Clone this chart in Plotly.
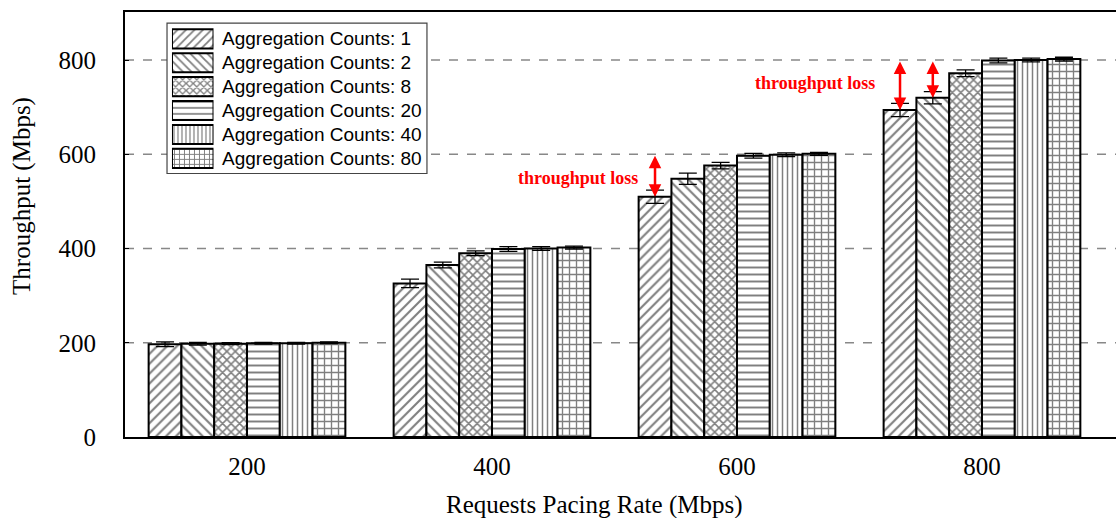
import plotly.graph_objects as go

# Requests pacing rates (Mbps) on the x axis
rates = ["200", "400", "600", "800"]
y_ticks = [0, 200, 400, 600, 800]

# Mean throughput (Mbps) per aggregation count
agg_1 = [197, 326, 510, 694]
agg_2 = [198, 365, 548, 720]
agg_8 = [198, 390, 576, 772]
agg_20 = [199, 399, 597, 799]
agg_40 = [199, 400, 599, 800]
agg_80 = [200, 402, 601, 802]

# Error bar half-lengths (Mbps)
err_1 = [5, 9, 14, 14]
err_2 = [3, 6, 12, 13]
err_8 = [2, 5, 7, 7]
err_20 = [2, 5, 5, 5]
err_40 = [2, 4, 4, 4]
err_80 = [2, 3, 3, 4]

names = ["Aggregation Counts: 1", "Aggregation Counts: 2", "Aggregation Counts: 8",
         "Aggregation Counts: 20", "Aggregation Counts: 40", "Aggregation Counts: 80"]
series = [agg_1, agg_2, agg_8, agg_20, agg_40, agg_80]
errors = [err_1, err_2, err_8, err_20, err_40, err_80]
shapes = ["/", "\\", "x", "-", "|", "+"]
sizes = [7, 7, 6, 7, 5, 7]
solid = [0.3, 0.3, 0.45, 0.28, 0.3, 0.35]

BARGAP = 0.197
SERIF = "Liberation Serif, Times New Roman, serif"
SANS = "Liberation Sans, Arial, sans-serif"

fig = go.Figure()
for name, vals, errs, shp, sz, so in zip(names, series, errors, shapes, sizes, solid):
    fig.add_trace(go.Bar(
        x=rates, y=vals, name=name, showlegend=False,
        marker=dict(color="white", line=dict(color="black", width=2),
                    pattern=dict(shape=shp, fgcolor="black", bgcolor="white",
                                 size=sz, solidity=so)),
        error_y=dict(type="data", array=errs, color="black",
                     thickness=1.3, width=9),
    ))

# Legend key: hatched swatches drawn as horizontal bars on a small inset axis
key_rows = list(range(len(names)))
fig.add_trace(go.Bar(
    x=[1] * len(names), y=key_rows, orientation="h",
    xaxis="x2", yaxis="y2", showlegend=False, hoverinfo="skip",
    offsetgroup="key", width=0.8,
    marker=dict(color="white", line=dict(color="black", width=2),
                pattern=dict(shape=shapes, fgcolor="black", bgcolor="white",
                             size=[6, 6, 5, 6, 4, 5],
                             solidity=[0.3, 0.3, 0.45, 0.28, 0.3, 0.35])),
))


# centre of the k-th bar inside group i (category units)
def bar_center(i, k, n=len(series)):
    w = (1 - BARGAP) / n
    return i - (1 - BARGAP) / 2 + w * (k + 0.5)


red = "#ff0000"
annotations = []
# double-headed arrows from the nominal rate down to the bar tops
for gi, k in [(2, 0), (3, 0), (3, 1)]:
    xc = bar_center(gi, k)
    annotations.append(dict(
        x=xc, y=series[k][gi], ax=xc, ay=float(rates[gi]),
        xref="x", yref="y", axref="x", ayref="y",
        showarrow=True, arrowhead=2, arrowside="end+start",
        arrowsize=1, arrowwidth=2.5, arrowcolor=red, standoff=0, startstandoff=0,
        text="",
    ))
for xv, yv in [(1.35, 550), (2.32, 752)]:
    annotations.append(dict(
        x=xv, y=yv, xref="x", yref="y", showarrow=False,
        text="<b>throughput loss</b>",
        font=dict(family=SERIF, size=18, color=red),
    ))
# legend key labels
for k, name in enumerate(names):
    annotations.append(dict(
        x=0.0956, y=k, xref="paper", yref="y2", showarrow=False,
        text=name, xanchor="left", yanchor="middle",
        font=dict(family=SANS, size=19, color="black"),
    ))
# axis titles
annotations.append(dict(
    x=0.473, y=-0.16, xref="paper", yref="paper", showarrow=False,
    text="Requests Pacing Rate (Mbps)", xanchor="center", yanchor="middle",
    font=dict(family=SERIF, size=25, color="black"),
))
annotations.append(dict(
    x=-0.104, y=0.567, xref="paper", yref="paper", showarrow=False,
    text="Throughput (Mbps)", textangle=-90, xanchor="center", yanchor="middle",
    font=dict(family=SERIF, size=25, color="black"),
))

# dashed horizontal gridlines, then the legend frame on top of them
layout_shapes = []
for v in y_ticks[1:]:
    layout_shapes.append(dict(
        type="line", xref="paper", yref="y", x0=0, x1=1, y0=v, y1=v,
        line=dict(color="#888", width=1.5, dash="dash"), layer="below",
    ))
layout_shapes.append(dict(
    type="rect", xref="paper", yref="paper",
    x0=0.0424, x1=0.3047, y0=0.620, y1=0.974,
    line=dict(color="#444", width=1.2), fillcolor="white", layer="below",
))

fig.update_layout(
    width=1116, height=518,
    margin=dict(l=125, r=0, t=12, b=81),
    paper_bgcolor="white", plot_bgcolor="white",
    barmode="group", bargap=BARGAP, bargroupgap=0,
    showlegend=False,
    annotations=annotations,
    shapes=layout_shapes,
    xaxis=dict(
        type="category", range=[-0.498, 3.547], domain=[0, 1],
        showline=True, linecolor="black", linewidth=2, mirror=True,
        showgrid=False, ticks="", ticklabelstandoff=6,
        tickfont=dict(family=SERIF, size=25, color="black"),
    ),
    yaxis=dict(
        range=[0, 902], tickvals=y_ticks, domain=[0, 1],
        showline=True, linecolor="black", linewidth=2,
        showgrid=False, zeroline=False,
        ticks="inside", ticklen=4, tickcolor="black",
        ticklabelstandoff=22,
        tickfont=dict(family=SERIF, size=25, color="black"),
    ),
    xaxis2=dict(
        domain=[0.0474, 0.0893], range=[0, 1], anchor="y2",
        visible=False, fixedrange=True,
    ),
    yaxis2=dict(
        domain=[0.6275, 0.965], range=[5.5, -0.5], anchor="x2",
        visible=False, fixedrange=True,
    ),
)

fig.write_html("out.html")
